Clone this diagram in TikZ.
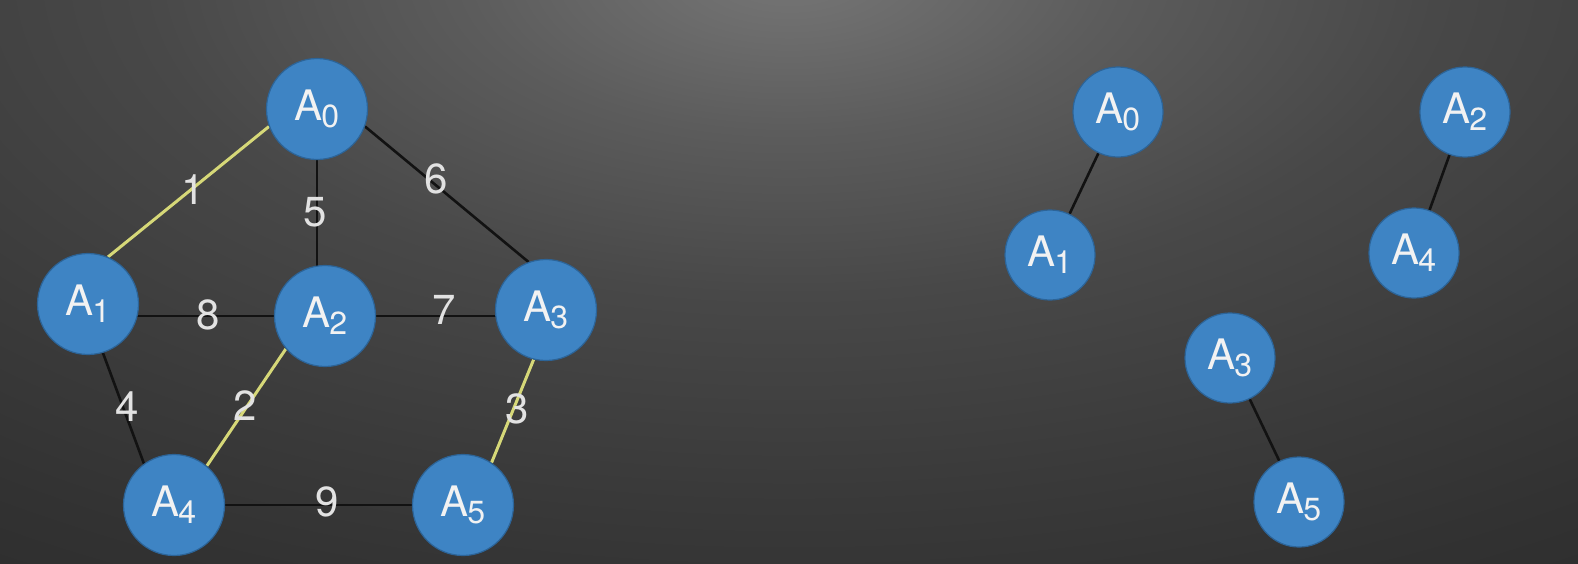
\documentclass[tikz,border=0pt]{standalone}
\usepackage{fontspec}
\setmainfont{TeX Gyre Heros}
\pgfdeclarelayer{bg}
\pgfsetlayers{bg,main}
\definecolor{nodeblue}{RGB}{62,132,196}
\definecolor{nodeedge}{RGB}{44,100,152}
\definecolor{pick}{RGB}{214,216,120}
\definecolor{txt}{RGB}{242,242,242}
\definecolor{lbl}{RGB}{226,226,226}
\definecolor{edgeblack}{RGB}{18,18,18}
\definecolor{bgA}{RGB}{118,118,118}
\definecolor{bgB}{RGB}{108,108,108}
\definecolor{bgC}{RGB}{92,92,92}
\definecolor{bgD}{RGB}{72,72,72}
\definecolor{bgE}{RGB}{58,58,58}
\definecolor{bgF}{RGB}{50,50,50}
\definecolor{bgG}{RGB}{44,44,44}
\pgfdeclareradialshading{bgshade}{\pgfpoint{0bp}{0bp}}{color(0bp)=(bgA); color(1.25bp)=(bgB); color(3.125bp)=(bgC); color(6.25bp)=(bgD); color(10bp)=(bgE); color(12.5bp)=(bgF); color(15bp)=(bgG); color(50bp)=(bgG)}
\newcommand\An[1]{A\kern-0.8pt\raisebox{-3.5pt}{\fontsize{16}{16}\selectfont #1}}
\tikzset{
  vbig/.style={circle, fill=nodeblue, draw=nodeedge, line width=0.6pt, minimum size=50.5pt, inner sep=0pt, text=txt, font=\fontsize{21}{21}\selectfont},
  vsmall/.style={circle, fill=nodeblue, draw=nodeedge, line width=0.6pt, minimum size=45pt, inner sep=0pt, text=txt, font=\fontsize{21}{21}\selectfont},
  plain/.style={draw=edgeblack, line width=1.3pt},
  chosen/.style={draw=pick, line width=1.5pt},
  wlabel/.style={text=lbl, font=\fontsize{21}{21}\selectfont, inner sep=0pt}
}
\begin{document}
\begin{tikzpicture}[x=0.5pt, y=-0.5pt]
\useasboundingbox (0,0) rectangle (1578,563);
% nodes, left graph
\node[vbig] (A0) at (317,109) {\An{0}};
\node[vbig] (A1) at (88,304) {\An{1}};
\node[vbig] (A2) at (325,316) {\An{2}};
\node[vbig] (A3) at (546,310) {\An{3}};
\node[vbig] (A4) at (174,505) {\An{4}};
\node[vbig] (A5) at (463,505) {\An{5}};
% nodes, right forest
\node[vsmall] (B0) at (1118,112) {\An{0}};
\node[vsmall] (B1) at (1050,255) {\An{1}};
\node[vsmall] (B2) at (1465,112) {\An{2}};
\node[vsmall] (B4) at (1414,253) {\An{4}};
\node[vsmall] (B3) at (1230,358) {\An{3}};
\node[vsmall] (B5) at (1299,502) {\An{5}};
\begin{pgfonlayer}{bg}
  \fill[bgG] (0,0) rectangle (1578,563);
  \begin{scope}
    \clip (0,0) rectangle (1578,563);
    \shade[shading=bgshade] (789,-30) ellipse (1300pt and 650pt);
  \end{scope}
  % left graph edges
  \draw[chosen] (A1.67) -- (A0.200);
  \draw[plain] (A0) -- (A0 |- A2);
  \draw[plain] (A0.340) -- (A3.110);
  \draw[plain] (A2) -- (A2 -| A1);
  \draw[plain] (A2) -- (A2 -| A3);
  \draw[plain] (A1.287) -- (A4.126);
  \draw[chosen] (A2.220) -- (A4.50);
  \draw[chosen] (A3.256) -- (A5.56);
  \draw[plain] (A4) -- (A5);
  % right forest edges
  \draw[plain] (B0) -- (B1);
  \draw[plain] (B2) -- (B4);
  \draw[plain] (B3) -- (B5);
\end{pgfonlayer}
% edge weights
\node[wlabel] (w1) at (193,190) {1};
\node[wlabel] (w5) at (315,212) {5};
\node[wlabel] (w6) at (436,179) {6};
\node[wlabel] (w8) at (208,315) {8};
\node[wlabel] (w7) at (444,310) {7};
\node[wlabel] (w4) at (127,407) {4};
\node[wlabel] (w2) at (245,406) {2};
\node[wlabel] (w3) at (517,409) {3};
\node[wlabel] (w9) at (327,502) {9};
\end{tikzpicture}
\end{document}
